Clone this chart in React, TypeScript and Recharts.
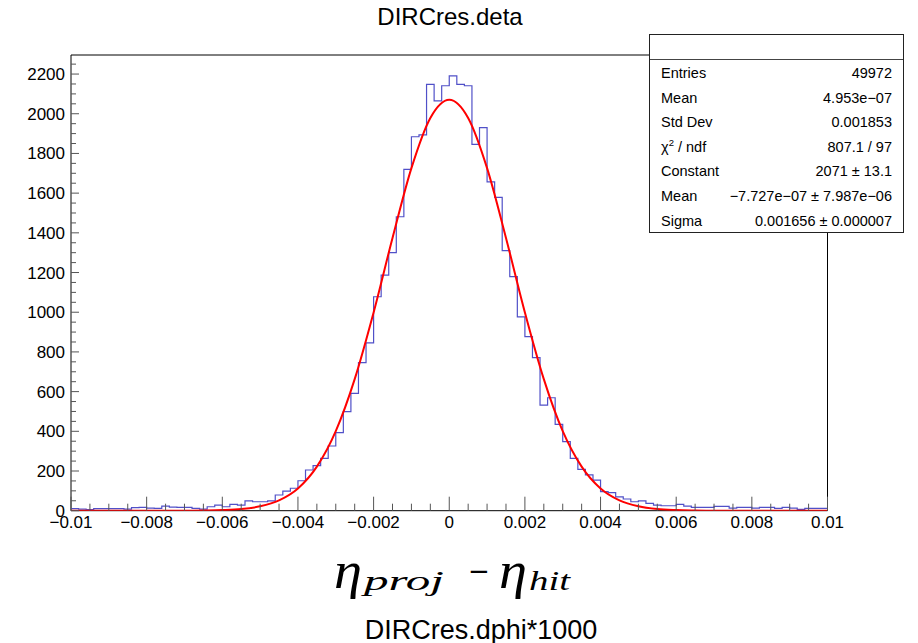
import React from "react";
import { ComposedChart, Line, XAxis, YAxis, ReferenceArea } from "recharts";

// histogram DIRCres.deta: 100 bins from -0.01 to 0.01
const histLow = -0.01;
const histHigh = 0.01;
const binCounts = [
  10, 8, 5, 10, 10, 10, 10, 8, 15, 17,
  13, 12, 23, 18, 17, 17, 12, 8, 20, 28,
  20, 32, 28, 50, 45, 45, 50, 79, 99, 113,
  151, 205, 227, 264, 326, 393, 499, 591, 746, 846,
  1078, 1187, 1300, 1481, 1720, 1884, 1894, 2148, 2065, 2141,
  2191, 2148, 2141, 1846, 1930, 1657, 1579, 1310, 1179, 977,
  877, 771, 532, 569, 435, 348, 264, 208, 180, 154,
  96, 91, 70, 59, 45, 50, 37, 28, 25, 25,
  32, 23, 17, 17, 17, 22, 22, 13, 17, 17,
  13, 17, 17, 12, 17, 13, 7, 12, 12, 12,
];

// gaus fit curve
const fitX = [
  -0.01, -0.0095, -0.009, -0.0085, -0.008, -0.0075, -0.007, -0.0065, -0.006, -0.0055,
  -0.005, -0.0045, -0.004, -0.0035, -0.003, -0.0025, -0.002, -0.0015, -0.001, -0.0005,
  0,
  0.0005, 0.001, 0.0015, 0.002, 0.0025, 0.003, 0.0035, 0.004, 0.0045, 0.005,
  0.0055, 0.006, 0.0065, 0.007, 0.0075, 0.008, 0.0085, 0.009, 0.0095, 0.01,
];
const fitY = [
  0, 0, 0, 0, 0, 0, 0, 1, 3, 8,
  22, 52, 112, 222, 401, 663, 999, 1374, 1726, 1979,
  2071,
  1979, 1726, 1374, 999, 663, 401, 222, 112, 52, 22,
  8, 3, 1, 0, 0, 0, 0, 0, 0, 0,
];

const xMajorTicks = [-0.01, -0.008, -0.006, -0.004, -0.002, 0, 0.002, 0.004, 0.006, 0.008, 0.01];
const xTickLabels = ["\u22120.01", "\u22120.008", "\u22120.006", "\u22120.004", "\u22120.002", "0", "0.002", "0.004", "0.006", "0.008", "0.01"];
const yMajorTicks = [0, 200, 400, 600, 800, 1000, 1200, 1400, 1600, 1800, 2000, 2200];
const yTickLabels = ["0", "200", "400", "600", "800", "1000", "1200", "1400", "1600", "1800", "2000", "2200"];

const statsLabels = ["Entries", "Mean", "Std Dev", "chi2", "Constant", "Mean", "Sigma"];
const statsValues = [
  "49972",
  "4.953e\u221207",
  "0.001853",
  "807.1 / 97",
  "2071 \u00b1 13.1",
  "\u22127.727e\u221207 \u00b1 7.987e\u221206",
  "0.001656 \u00b1 0.000007",
];

const yMax = 2296;
const binWidth = (histHigh - histLow) / binCounts.length;

const histData = binCounts.map((c, i) => ({ x: histLow + i * binWidth, y: c }));
histData.push({ x: histHigh, y: binCounts[binCounts.length - 1] });
const fitData = fitX.map((x, i) => ({ x, y: fitY[i] }));

const xMinorTicks: number[] = [];
for (let i = 0; i <= 40; i++) xMinorTicks.push(Number((-0.01 + 0.0005 * i).toFixed(5)));
const yMinorTicks: number[] = [];
for (let v = 0; v <= 2250; v += 50) yMinorTicks.push(v);

const FONT = "'Liberation Sans', Arial, Helvetica, sans-serif";
const MATH = "'Liberation Serif', 'DejaVu Serif', serif";

function majorIndex(list: number[], v: number) {
  return list.findIndex((m) => Math.abs(m - v) < 1e-9);
}

const XTick = (props: any) => {
  const { x, y, payload } = props;
  const k = majorIndex(xMajorTicks, payload.value);
  const len = k >= 0 ? 14 : 7;
  return (
    <g>
      <line x1={x} x2={x} y1={y} y2={y - len} stroke="#555" strokeWidth={1} />
      {k >= 0 && (
        <text x={x} y={y + 17.5} textAnchor="middle" fontSize={17} fontFamily={FONT} fill="#000">
          {xTickLabels[k]}
        </text>
      )}
    </g>
  );
};

const YTick = (props: any) => {
  const { x, y, payload } = props;
  const k = majorIndex(yMajorTicks, payload.value);
  const len = k >= 0 ? 8 : 5;
  return (
    <g>
      <line x1={x} x2={x + len} y1={y} y2={y} stroke="#555" strokeWidth={1} />
      {k >= 0 && (
        <text x={x - 6} y={y + 6} textAnchor="end" fontSize={17} fontFamily={FONT} fill="#000">
          {yTickLabels[k]}
        </text>
      )}
    </g>
  );
};

export default function App() {
  return (
    <div style={{ position: "absolute", left: 0, top: 0, width: 918, height: 643, background: "#fff" }}>
      <ComposedChart width={918} height={643} margin={{ top: 55, right: 90.5, bottom: 0, left: 0 }}>
        <XAxis
          dataKey="x"
          type="number"
          domain={[histLow, histHigh]}
          ticks={xMinorTicks}
          interval={0}
          height={132.3}
          tickSize={0}
          tickMargin={0}
          tickLine={false}
          axisLine={false}
          tick={<XTick />}
          allowDataOverflow
        />
        <YAxis
          type="number"
          domain={[0, yMax]}
          ticks={yMinorTicks}
          interval={0}
          width={71}
          tickSize={0}
          tickMargin={0}
          tickLine={false}
          axisLine={false}
          tick={<YTick />}
          allowDataOverflow
        />
        <ReferenceArea x1={histLow} x2={histHigh} y1={0} y2={yMax} fill="none" stroke="#000" strokeWidth={1} strokeOpacity={1} />
        <Line
          data={histData}
          dataKey="y"
          type="stepAfter"
          stroke="#5050c8"
          strokeWidth={1.2}
          dot={false}
          isAnimationActive={false}
        />
        <Line
          data={fitData}
          dataKey="y"
          type="monotone"
          stroke="#ff0000"
          strokeWidth={2}
          dot={false}
          isAnimationActive={false}
        />
      </ComposedChart>

      <svg width={918} height={643} style={{ position: "absolute", left: 0, top: 0, pointerEvents: "none" }}>
        <text x={450} y={25} textAnchor="middle" fontSize={24} fontFamily={FONT} fill="#000">
          DIRCres.deta
        </text>
        <g fontFamily={MATH} fontStyle="italic" fill="#000">
          <text x={334} y={588} fontSize={52} textLength={28} lengthAdjust="spacingAndGlyphs">{"\u03b7"}</text>
          <text x={364} y={590} fontSize={28} textLength={80} lengthAdjust="spacingAndGlyphs">proj</text>
          <text x={499} y={588} fontSize={52} textLength={28} lengthAdjust="spacingAndGlyphs">{"\u03b7"}</text>
          <text x={529} y={590} fontSize={28} textLength={41} lengthAdjust="spacingAndGlyphs">hit</text>
        </g>
        <text x={479} y={580} textAnchor="middle" fontSize={26} fontFamily="'DejaVu Sans', sans-serif" fill="#000">
          {"\u2212"}
        </text>
        <text x={481} y={639} textAnchor="middle" fontSize={27} fontFamily={FONT} fill="#000">
          DIRCres.dphi*1000
        </text>
      </svg>

      <div
        style={{
          position: "absolute",
          left: 649,
          top: 34,
          width: 253,
          height: 197,
          border: "1px solid #222",
          background: "#fff",
          fontFamily: FONT,
          fontSize: 14.5,
          color: "#000",
        }}
      >
        <div style={{ height: 24, borderBottom: "1px solid #444" }} />
        <div style={{ paddingTop: 1 }}>
          {statsLabels.map((label, i) => (
            <div
              key={i}
              style={{
                height: 24.6,
                lineHeight: "24.6px",
                display: "flex",
                justifyContent: "space-between",
                paddingLeft: 11,
                paddingRight: 11,
                whiteSpace: "nowrap",
              }}
            >
              <span>
                {label === "chi2" ? (
                  <>
                    {"\u03c7"}
                    <span style={{ fontSize: 9.5, position: "relative", top: -6 }}>2</span>
                    {" / ndf"}
                  </>
                ) : (
                  label
                )}
              </span>
              <span>{statsValues[i]}</span>
            </div>
          ))}
        </div>
      </div>
    </div>
  );
}
